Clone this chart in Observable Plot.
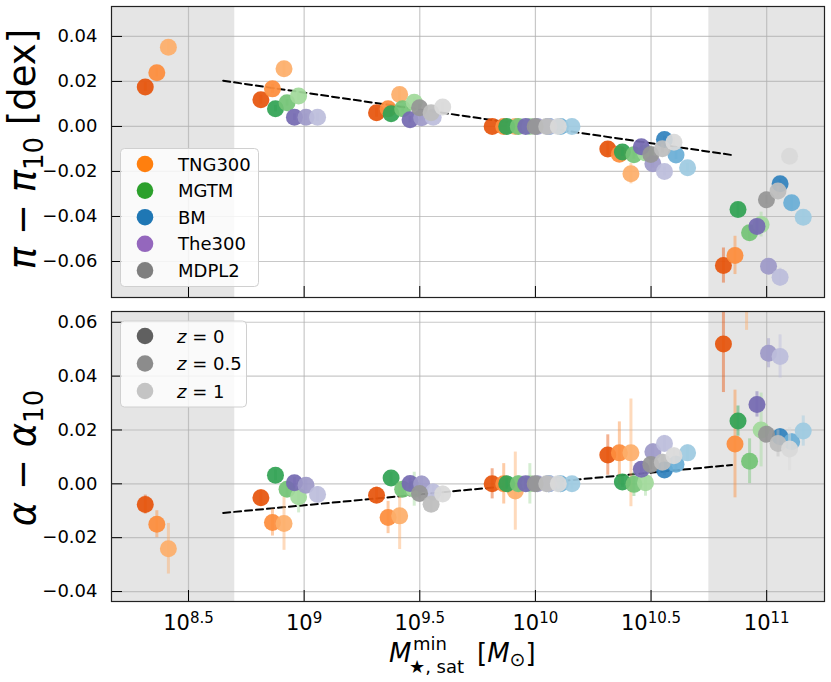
<!DOCTYPE html>
<html><head><meta charset="utf-8">
<script src="https://cdn.jsdelivr.net/npm/d3@7"></script>
<script src="https://cdn.jsdelivr.net/npm/@observablehq/plot@0.6"></script>
<style>
html,body{margin:0;padding:0;background:#fff;}
#wrap{position:relative;width:831px;height:682px;font-family:"DejaVu Sans",sans-serif;overflow:hidden;}
#wrap svg{position:absolute;left:0;}
</style></head><body><div id="wrap"></div>
<script>
// ---------- data ----------
const thresholdsLog = [8.313, 8.813, 9.313, 9.813, 10.313, 10.813]; // log10 M*,sat^min of each sample
const sims = ["TNG300", "MGTM", "BM", "The300", "MDPL2"];
const redshiftLabels = ["0", "0.5", "1"];
const xTickLogs = [8.5, 9, 9.5, 10, 10.5, 11];
const xRangeLog = [8.167, 11.25];
const shadeLog = [[8.167, 8.7], [10.75, 11.25]];
const piTicks = [0.04, 0.02, 0, -0.02, -0.04, -0.06];
const alphaTicks = [0.06, 0.04, 0.02, 0, -0.02, -0.04];
const piDomain = [-0.076, 0.0533];
const alphaDomain = [-0.0437, 0.064];
const fitLogX = [8.65, 10.85];
const piFit = [0.0203, -0.0127];
const alphaFit = [-0.0108, 0.0070];

// pi - pi10 : rows are z = 0, 0.5, 1 ; columns are thresholds
const pi_TNG300 = [[0.0175, 0.0119, 0.0061, 0, -0.0100, -0.0618], [0.0239, 0.0167, 0.0079, 0, -0.0124, -0.0573], [0.0352, 0.0256, 0.0142, 0, -0.0210, null]];
const pi_MGTM   = [[null, 0.0079, 0.0056, 0, -0.0114, -0.0369], [null, 0.0105, 0.0079, 0, -0.0126, -0.0472], [null, 0.0135, 0.0108, 0, -0.0118, -0.0436]];
const pi_BM     = [[null, null, null, 0, -0.0058, -0.0255], [null, null, null, 0, -0.0127, -0.0339], [null, null, null, 0, -0.0183, -0.0403]];
const pi_The300 = [[null, 0.0041, 0.0030, 0, -0.0090, -0.0444], [null, 0.0041, 0.0039, 0, -0.0166, -0.0621], [null, 0.0041, 0.0041, 0, -0.0200, -0.0670]];
const pi_MDPL2  = [[null, null, 0.0083, 0, -0.0125, -0.0326], [null, null, 0.0061, 0, -0.0099, -0.0287], [null, null, 0.0086, 0, -0.0070, -0.0132]];
const piErr_TNG300 = [[0.002, 0.002, 0.002, 0, 0.003, 0.0078], [0.002, 0.002, 0.002, 0, 0.003, 0.0085], [0.003, 0.003, 0.003, 0, 0.0045, null]];
const piErr_MGTM   = [[null, 0.0015, 0.0015, 0, 0.002, 0.003], [null, 0.0015, 0.0015, 0, 0.002, 0.003], [null, 0.002, 0.002, 0, 0.003, 0.0055]];
const piErr_BM     = [[null, null, null, 0, 0.0015, 0.002], [null, null, null, 0, 0.002, 0.003], [null, null, null, 0, 0.002, 0.003]];
const piErr_The300 = [[null, 0.0015, 0.0015, 0, 0.002, 0.003], [null, 0.0015, 0.0015, 0, 0.002, 0.003], [null, 0.002, 0.002, 0, 0.002, 0.004]];
const piErr_MDPL2  = [[null, null, 0.0015, 0, 0.002, 0.002], [null, null, 0.0015, 0, 0.002, 0.002], [null, null, 0.002, 0, 0.002, 0.003]];

// alpha - alpha10
const al_TNG300 = [[-0.0077, -0.0052, -0.0042, 0, 0.0107, 0.0519], [-0.0150, -0.0144, -0.0125, 0, 0.0115, 0.0148], [-0.0241, -0.0147, -0.0119, -0.0027, 0.0115, 0.082]];
const al_MGTM   = [[null, 0.0032, 0.0022, 0, 0.0007, 0.0233], [null, -0.0020, -0.0020, 0, -0.0002, 0.0084], [null, -0.0048, -0.0020, 0, 0.0004, 0.0200]];
const al_BM     = [[null, null, null, 0, 0.0051, 0.0175], [null, null, null, 0, 0.0073, 0.0156], [null, null, null, 0, 0.0115, 0.0196]];
const al_The300 = [[null, 0.0004, 0.0001, 0, 0.0054, 0.0295], [null, -0.0005, -0.0001, 0, 0.0119, 0.0485], [null, -0.0040, -0.0030, 0, 0.0150, 0.0473]];
const al_MDPL2  = [[null, null, -0.0036, 0, 0.0072, 0.0184], [null, null, -0.0076, 0, 0.0080, 0.0150], [null, null, -0.0038, 0, 0.0104, 0.0129]];
const alErr_TNG300 = [[0.0035, 0.003, 0.003, 0.0056, 0.0075, 0.018], [0.005, 0.005, 0.006, 0.0075, 0.0115, 0.020], [0.0094, 0.010, 0.0125, 0.0145, 0.020, 0.025]];
const alErr_MGTM   = [[null, 0.002, 0.002, 0.002, 0.002, 0.0056], [null, 0.003, 0.003, 0.003, 0.0045, 0.0083], [null, 0.006, 0.0063, 0.0075, 0.005, 0.0137]];
const alErr_BM     = [[null, null, null, 0.002, 0.002, 0.003], [null, null, null, 0.002, 0.003, 0.003], [null, null, null, 0.002, 0.003, 0.0056]];
const alErr_The300 = [[null, 0.002, 0.002, 0.002, 0.002, 0.0047], [null, 0.002, 0.003, 0.002, 0.003, 0.0054], [null, 0.003, 0.003, 0.002, 0.003, 0.008]];
const alErr_MDPL2  = [[null, null, 0.002, 0.002, 0.002, 0.003], [null, null, 0.003, 0.002, 0.003, 0.005], [null, null, 0.003, 0.002, 0.003, 0.008]];

// ---------- styling ----------
const colors = {
  TNG300: ["#e6550d", "#fd8d3c", "#fdae6b"],
  MGTM:   ["#31a354", "#74c476", "#a1d99b"],
  BM:     ["#3182bd", "#6baed6", "#9ecae1"],
  The300: ["#756bb1", "#9e9ac8", "#bcbddc"],
  MDPL2:  ["#969696", "#bdbdbd", "#d9d9d9"]
};
const legendColors = {TNG300: "#ff7f0e", MGTM: "#2ca02c", BM: "#1f77b4", The300: "#9467bd", MDPL2: "#7f7f7f"};
const zLegendColors = ["#606060", "#8c8c8c", "#c4c4c4"];
// horizontal dodge (dex) so that simulations / redshifts do not overlap
const simDodge = {TNG300: 0, MGTM: 0.063, BM: 0.245, The300: 0.145, MDPL2: 0.186};
const zDodge = [0, 0.05, 0.10];

const piVals = {TNG300: pi_TNG300, MGTM: pi_MGTM, BM: pi_BM, The300: pi_The300, MDPL2: pi_MDPL2};
const piErrs = {TNG300: piErr_TNG300, MGTM: piErr_MGTM, BM: piErr_BM, The300: piErr_The300, MDPL2: piErr_MDPL2};
const alVals = {TNG300: al_TNG300, MGTM: al_MGTM, BM: al_BM, The300: al_The300, MDPL2: al_MDPL2};
const alErrs = {TNG300: alErr_TNG300, MGTM: alErr_MGTM, BM: alErr_BM, The300: alErr_The300, MDPL2: alErr_MDPL2};

function buildRows(vals, errs) {
  const rows = [];
  for (const s of sims) for (let k = 0; k < 3; k++) thresholdsLog.forEach((t, g) => {
    const v = vals[s][k][g];
    if (v == null) return;
    rows.push({sim: s, k, x: 10 ** (t + simDodge[s] + zDodge[k]), y: v, err: errs[s][k][g] || 0});
  });
  return rows;
}

const yFmt = d => (d < 0 ? "\u2212" : "") + Math.abs(d).toFixed(2);
const expFmt = d => { const e = Math.log10(d); return "10^" + (Math.abs(e - Math.round(e)) < 1e-6 ? String(Math.round(e)) : e.toFixed(1)); };

function panel({rows, yTicks, yDomain, fitY, height, marginTop, marginBottom, xLabels}) {
  const marks = [
    Plot.rect(shadeLog, {x1: d => 10 ** d[0], x2: d => 10 ** d[1], fill: "#e5e5e5"}),
    Plot.gridX(xTickLogs.map(v => 10 ** v), {stroke: "#b0b0b0", strokeOpacity: 0.7, strokeWidth: 1.2}),
    Plot.gridY(yTicks, {stroke: "#b0b0b0", strokeOpacity: 0.7, strokeWidth: 1.2}),
    Plot.line(fitLogX.map((v, i) => ({x: 10 ** v, y: fitY[i]})), {x: "x", y: "y", stroke: "#000", strokeWidth: 2, strokeDasharray: "7,4"})
  ];
  for (const s of sims) for (let k = 0; k < 3; k++) {
    const d = rows.filter(r => r.sim === s && r.k === k);
    marks.push(Plot.ruleX(d, {x: "x", y1: r => r.y - r.err, y2: r => r.y + r.err, stroke: colors[s][k], strokeOpacity: 0.45, strokeWidth: 3, clip: true}));
    marks.push(Plot.dot(d, {x: "x", y: "y", r: 8.5, fill: colors[s][k], fillOpacity: 0.93, stroke: "none", clip: true}));
  }
  marks.push(Plot.axisY(yTicks, {tickSize: -11, tickPadding: 25, tickFormat: yFmt, fontSize: 18, label: null}));
  marks.push(Plot.axisX(xTickLogs.map(v => 10 ** v), {tickSize: -11, tickPadding: 25, tickFormat: xLabels ? expFmt : () => "", fontSize: 21, label: null}));
  marks.push(Plot.frame({stroke: "#222", strokeWidth: 1.2}));
  const svg = Plot.plot({
    width: 831, height, marginLeft: 111, marginRight: 7, marginTop, marginBottom,
    x: {type: "log", domain: xRangeLog.map(v => 10 ** v), label: null},
    y: {domain: yDomain, label: null},
    style: {fontFamily: "DejaVu Sans", background: "transparent", overflow: "visible", color: "#000"},
    marks
  });
  d3.select(svg).selectAll('g[aria-label="x-axis tick label"] text').each(function () {
    const t = this.textContent;
    if (!t.includes("^")) return;
    const [b, e] = t.split("^");
    this.textContent = "";
    d3.select(this).append("tspan").text(b);
    d3.select(this).append("tspan").attr("dy", "-0.48em").attr("font-size", "15px").text(e);
  });
  return svg;
}

const wrap = document.getElementById("wrap");
const topPanel = panel({rows: buildRows(piVals, piErrs), yTicks: piTicks, yDomain: piDomain, fitY: piFit, height: 304, marginTop: 6, marginBottom: 7, xLabels: false});
topPanel.style.top = "0px";
const botPanel = panel({rows: buildRows(alVals, alErrs), yTicks: alphaTicks, yDomain: alphaDomain, fitY: alphaFit, height: 378, marginTop: 7, marginBottom: 81, xLabels: true});
botPanel.style.top = "304px";
wrap.appendChild(topPanel);
wrap.appendChild(botPanel);

// ---------- labels & legends (overlay) ----------
const ov = d3.select(wrap).append("svg").attr("width", 831).attr("height", 682)
  .style("top", "0px").style("pointer-events", "none")
  .attr("font-family", "DejaVu Sans").attr("fill", "#000");

const yl1 = ov.append("text").attr("transform", "translate(35,149) rotate(-90)").attr("text-anchor", "middle").attr("font-size", 37);
yl1.append("tspan").attr("font-style", "italic").text("\u03c0");
yl1.append("tspan").text(" \u2212 ");
yl1.append("tspan").attr("font-style", "italic").text("\u03c0");
yl1.append("tspan").attr("font-size", 26).attr("dy", 8).text("10");
yl1.append("tspan").attr("dy", -8).text(" [dex]");

const yl2 = ov.append("text").attr("transform", "translate(35,458) rotate(-90)").attr("text-anchor", "middle").attr("font-size", 37);
yl2.append("tspan").attr("font-style", "italic").text("\u03b1");
yl2.append("tspan").text(" \u2212 ");
yl2.append("tspan").attr("font-style", "italic").text("\u03b1");
yl2.append("tspan").attr("font-size", 26).attr("dy", 8).text("10");

ov.append("text").attr("x", 389).attr("y", 662).attr("font-size", 26).attr("font-style", "italic").text("M");
ov.append("text").attr("x", 413).attr("y", 650).attr("font-size", 18).text("min");
ov.append("text").attr("x", 409).attr("y", 673).attr("font-size", 18).text("\u2605, sat");
const xl = ov.append("text").attr("x", 477).attr("y", 662).attr("font-size", 26);
xl.append("tspan").text("[");
xl.append("tspan").attr("font-style", "italic").text("M");
xl.append("tspan").attr("font-size", 19).attr("dy", 4).text("\u2299");
xl.append("tspan").attr("dy", -4).text("]");

// legend: simulations
const lg1 = ov.append("g");
lg1.append("rect").attr("x", 120.5).attr("y", 148.5).attr("width", 138).attr("height", 138).attr("rx", 4)
  .attr("fill", "#fff").attr("fill-opacity", 0.8).attr("stroke", "#d0d0d0");
sims.forEach((s, i) => {
  const cy = 164 + i * 26.6;
  lg1.append("circle").attr("cx", 145).attr("cy", cy).attr("r", 8.3).attr("fill", legendColors[s]);
  lg1.append("text").attr("x", 178).attr("y", cy + 6.5).attr("font-size", 18).text(s);
});
// legend: redshifts
const lg2 = ov.append("g");
lg2.append("rect").attr("x", 120.5).attr("y", 321).attr("width", 126).attr("height", 86).attr("rx", 4)
  .attr("fill", "#fff").attr("fill-opacity", 0.8).attr("stroke", "#d0d0d0");
redshiftLabels.forEach((z, i) => {
  const cy = 336 + i * 27.5;
  lg2.append("circle").attr("cx", 145).attr("cy", cy).attr("r", 8.3).attr("fill", zLegendColors[i]);
  const t = lg2.append("text").attr("x", 177).attr("y", cy + 6.5).attr("font-size", 18);
  t.append("tspan").attr("font-style", "italic").text("z");
  t.append("tspan").text(" = " + z);
});
</script></body></html>
